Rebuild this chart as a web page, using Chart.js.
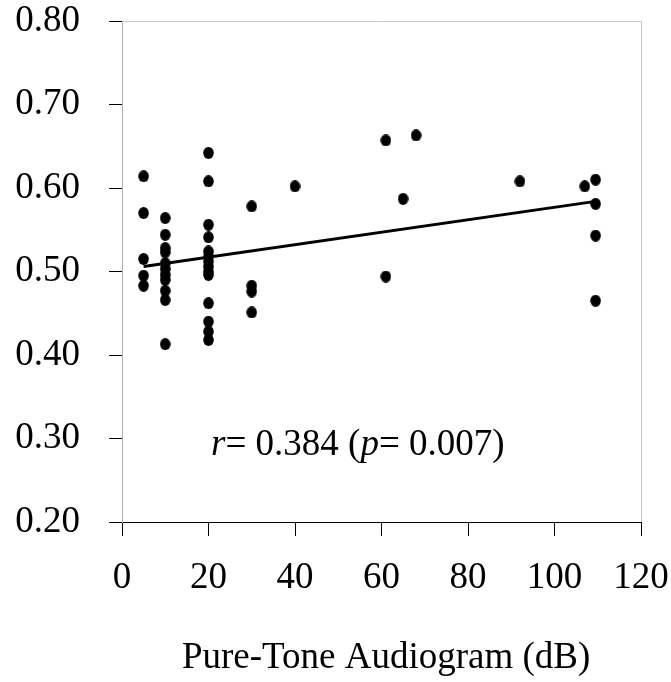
<!DOCTYPE html>
<html>
<head>
<meta charset="utf-8">
<script src="https://cdn.jsdelivr.net/npm/chart.js@4/dist/chart.umd.min.js"></script>
<style>
    html, body { margin: 0; padding: 0; background: #fff; }
    #chart { display: block; }
</style>
</head>
<body>
<canvas id="chart" width="671" height="682"></canvas>
<script>
// 1. DATA
const audiogramDb = [
    5, 5, 5, 5, 5,
    10, 10, 10, 10, 10, 10, 10, 10, 10, 10, 10,
    20, 20, 20, 20, 20, 20, 20, 20, 20, 20, 20, 20, 20, 20,
    30, 30, 30, 30,
    40,
    61, 61,
    65,
    68,
    92,
    107,
    109.5, 109.5, 109.5, 109.5
];
const ratioValues = [
    0.614, 0.570, 0.515, 0.495, 0.483,
    0.564, 0.544, 0.528, 0.523, 0.510, 0.503, 0.496, 0.490, 0.477, 0.466, 0.413,
    0.642, 0.608, 0.556, 0.541, 0.524, 0.518, 0.512, 0.506, 0.500, 0.496, 0.462, 0.440, 0.428, 0.418,
    0.578, 0.483, 0.476, 0.451,
    0.602,
    0.657, 0.494,
    0.587,
    0.663,
    0.608,
    0.602,
    0.610, 0.581, 0.543, 0.465
];

// regression line end points
const trendX = [5, 109.5];
const trendY = [0.506, 0.584];

const xTicks = [0, 20, 40, 60, 80, 100, 120];
const yTicks = [0.20, 0.30, 0.40, 0.50, 0.60, 0.70, 0.80];

const xTitle = 'Pure-Tone Audiogram (dB)';
const statParts = [
    { text: 'r', italic: true },
    { text: '= 0.384 (', italic: false },
    { text: 'p', italic: true },
    { text: '= 0.007)', italic: false }
];
const statAnchor = { x: 20.6, y: 0.28 };

const FONT = "'Liberation Serif', 'Times New Roman', serif";
const FONT_SIZE = 37;


// 2. SLIGHTLY OVAL DOT, like the original marker
function makeDot() {
    const c = document.createElement('canvas');
    c.width = 11;
    c.height = 12;
    const g = c.getContext('2d');
    g.fillStyle = '#000';
    g.beginPath();
    g.ellipse(5.5, 6, 5.3, 5.9, 0, 0, Math.PI * 2);
    g.fill();
    return c;
}

// tick padding would otherwise push the plot area inwards
function noScalePadding(s) {
    s.paddingTop = 0;
    s.paddingBottom = 0;
    s.paddingLeft = 0;
    s.paddingRight = 0;
}


// 3. PLUGINS: gray frame on top/right and the r / p note
const framePlugin = {
    id: 'frame',
    beforeDatasetsDraw(chart) {
        const { ctx, chartArea: a } = chart;
        ctx.save();
        ctx.strokeStyle = '#c8c8c8';
        ctx.lineWidth = 1;
        ctx.beginPath();
        ctx.moveTo(a.left, a.top + 0.5);
        ctx.lineTo(a.right + 0.5, a.top + 0.5);
        ctx.lineTo(a.right + 0.5, a.bottom);
        ctx.stroke();
        ctx.restore();
    }
};

const notePlugin = {
    id: 'note',
    afterDatasetsDraw(chart) {
        const ctx = chart.ctx;
        let x = chart.scales.x.getPixelForValue(statAnchor.x);
        const y = chart.scales.y.getPixelForValue(statAnchor.y);
        ctx.save();
        ctx.fillStyle = '#000';
        ctx.textBaseline = 'alphabetic';
        ctx.textAlign = 'left';
        statParts.forEach(p => {
            ctx.font = (p.italic ? 'italic ' : '') + FONT_SIZE + 'px ' + FONT;
            ctx.fillText(p.text, x, y);
            x += ctx.measureText(p.text).width;
        });
        ctx.restore();
    }
};


// 4. CHART
const points = audiogramDb.map((v, i) => ({ x: v, y: ratioValues[i] }));
const trend = trendX.map((v, i) => ({ x: v, y: trendY[i] }));

new Chart(document.getElementById('chart'), {
    type: 'scatter',
    data: {
        datasets: [{
            data: points,
            pointStyle: makeDot(),
            pointRadius: 5.5,
            backgroundColor: '#000',
            borderColor: '#000',
            order: 2
        }, {
            type: 'line',
            data: trend,
            borderColor: '#000',
            borderWidth: 3,
            pointRadius: 0,
            fill: false,
            tension: 0,
            order: 1
        }]
    },
    options: {
        responsive: false,
        animation: false,
        events: [],
        layout: { padding: { top: 21, right: 30, left: 0, bottom: 0 } },
        plugins: {
            legend: { display: false },
            tooltip: { enabled: false }
        },
        scales: {
            x: {
                type: 'linear',
                min: 0,
                max: 120,
                afterBuildTicks: s => { s.ticks = xTicks.map(v => ({ value: v })); },
                afterFit: s => { s.height = 160; noScalePadding(s); },
                grid: { drawOnChartArea: false, drawTicks: true, tickLength: 14, color: '#000', lineWidth: 1 },
                border: { color: '#000', width: 1 },
                ticks: {
                    color: '#000',
                    padding: 20,
                    maxRotation: 0,
                    font: { family: FONT, size: FONT_SIZE }
                },
                title: {
                    display: true,
                    text: ' ' + xTitle,
                    color: '#000',
                    font: { family: FONT, size: FONT_SIZE },
                    padding: { top: 0, bottom: 2 }
                }
            },
            y: {
                type: 'linear',
                min: 0.2,
                max: 0.8,
                afterBuildTicks: s => { s.ticks = yTicks.map(v => ({ value: v })); },
                afterFit: s => { s.width = 122; noScalePadding(s); },
                grid: { drawOnChartArea: false, drawTicks: true, tickLength: 13, color: '#000', lineWidth: 1 },
                border: { color: '#b0b0b0', width: 1 },
                ticks: {
                    color: '#000',
                    padding: 29,
                    font: { family: FONT, size: FONT_SIZE },
                    callback: v => Number(v).toFixed(2)
                }
            }
        }
    },
    plugins: [framePlugin, notePlugin]
});
</script>
</body>
</html>
